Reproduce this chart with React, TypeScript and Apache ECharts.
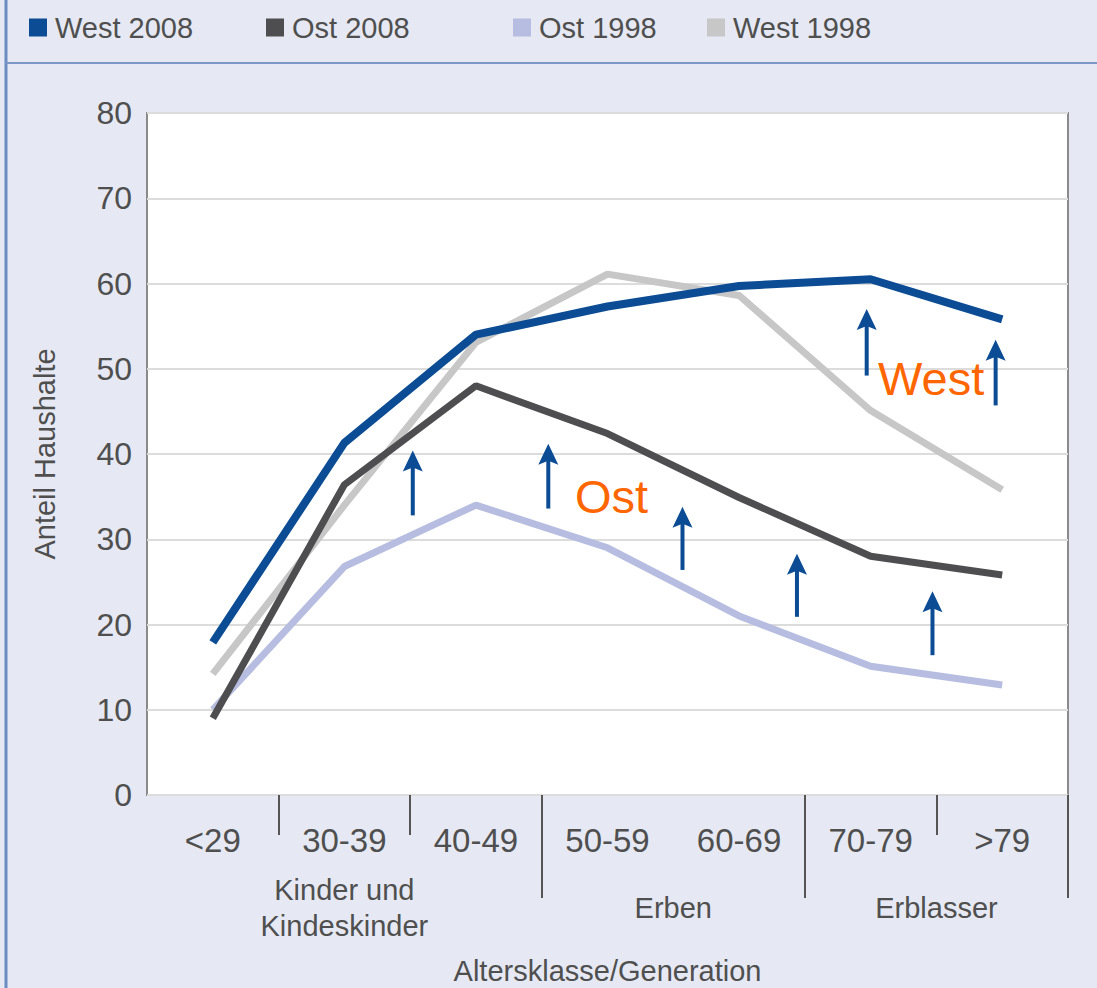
import React, { useEffect, useRef } from "react";
import * as echarts from "echarts";

const categories = ["<29", "30-39", "40-49", "50-59", "60-69", "70-79", ">79"];
const west2008 = [17.9, 41.3, 54.0, 57.3, 59.7, 60.5, 55.8];
const ost2008 = [9.0, 36.4, 48.0, 42.4, 34.9, 28.0, 25.8];
const ost1998 = [10.0, 26.8, 34.0, 29.0, 21.0, 15.1, 12.9];
const west1998 = [14.2, 34.0, 53.1, 61.1, 58.6, 45.1, 35.8];

const yTicks = { min: 0, max: 80, interval: 10 };

// arrows in (category-index, value) coordinates: [x, yFrom, yTo]
const arrows: [number, number, number][] = [
  [1.52, 32.8, 40.4],
  [2.55, 33.6, 41.2],
  [3.57, 26.4, 33.8],
  [4.44, 20.9, 28.3],
  [5.47, 16.4, 23.9],
  [4.97, 49.2, 57.0],
  [5.95, 45.7, 53.4],
];

const shortSeparators = [1, 2, 6];
const longSeparators = [3, 5];

const groupLabels = [
  { text: "Kinder und\nKindeskinder", at: 1 },
  { text: "Erben", at: 3.5 },
  { text: "Erblasser", at: 5.5 },
];

const FONT = "'Liberation Sans', Arial, Helvetica, sans-serif";
const TXT = "#4f4f4f";
const C_W08 = "#0b4c94";
const C_O08 = "#4e4e50";
const C_O98 = "#b6bde0";
const C_W98 = "#c7c7c7";

export default function App() {
  const ref = useRef<HTMLDivElement>(null);
  useEffect(() => {
    if (!ref.current) return;
    const chart = echarts.init(ref.current, null, { renderer: "svg" });
    const legendBase = {
      icon: "rect",
      itemWidth: 18,
      itemHeight: 18,
      top: 13,
      padding: 0,
      textStyle: { fontSize: 29, color: TXT, fontFamily: FONT, lineHeight: 29, padding: [0, 0, 0, 3] },
      selectedMode: false,
    };
    chart.setOption({
      animation: false,
      backgroundColor: "#e6e9f3",
      textStyle: { fontFamily: FONT },
      legend: [
        { ...legendBase, left: 29, data: ["West 2008"] },
        { ...legendBase, left: 266, data: ["Ost 2008"] },
        { ...legendBase, left: 513, data: ["Ost 1998"] },
        { ...legendBase, left: 707, data: ["West 1998"] },
      ],
      grid: {
        left: 147,
        top: 113,
        width: 921,
        height: 682,
        outerBoundsMode: "none",
        containLabel: false,
        show: true,
        backgroundColor: "#ffffff",
        borderColor: "#8a8a8a",
        borderWidth: 2,
      },
      xAxis: [
        {
          type: "category",
          data: categories,
          position: "bottom",
          boundaryGap: true,
          axisLine: { show: false },
          axisTick: {
            show: true,
            length: 40,
            interval: (i: number) => shortSeparators.includes(i),
            lineStyle: { color: "#555", width: 2 },
          },
          axisLabel: { fontSize: 33, color: TXT, margin: 29, lineHeight: 33, fontFamily: FONT, interval: 0 },
          name: "Altersklasse/Generation",
          nameLocation: "middle",
          nameGap: 161,
          nameTextStyle: { fontSize: 29, color: TXT, fontFamily: FONT },
          splitLine: { show: false },
        },
        {
          type: "category",
          data: categories,
          position: "bottom",
          boundaryGap: true,
          axisLine: { show: false },
          axisTick: {
            show: true,
            length: 103,
            interval: (i: number) => longSeparators.includes(i),
            lineStyle: { color: "#555", width: 2 },
          },
          axisLabel: { show: false },
          splitLine: { show: false },
        },
        {
          type: "value",
          min: -0.5,
          max: 6.5,
          show: false,
          splitLine: { show: false },
        },
      ],
      yAxis: {
        type: "value",
        min: yTicks.min,
        max: yTicks.max,
        interval: yTicks.interval,
        axisLine: { show: false },
        axisTick: { show: false },
        axisLabel: { fontSize: 32, color: TXT, margin: 15, fontFamily: FONT },
        splitLine: { lineStyle: { color: "#dcdcdc", width: 2 } },
        name: "Anteil Haushalte",
        nameLocation: "middle",
        nameRotate: 90,
        nameGap: 88,
        nameTextStyle: { fontSize: 29, color: TXT, fontFamily: FONT },
      },
      series: [
        {
          name: "West 1998",
          type: "line",
          data: west1998,
          symbol: "none",
          lineStyle: { color: C_W98, width: 7 },
          itemStyle: { color: C_W98 },
        },
        {
          name: "Ost 1998",
          type: "line",
          data: ost1998,
          symbol: "none",
          lineStyle: { color: C_O98, width: 7 },
          itemStyle: { color: C_O98 },
        },
        {
          name: "Ost 2008",
          type: "line",
          data: ost2008,
          symbol: "none",
          lineStyle: { color: C_O08, width: 7 },
          itemStyle: { color: C_O08 },
        },
        {
          name: "West 2008",
          type: "line",
          data: west2008,
          symbol: "none",
          lineStyle: { color: C_W08, width: 8 },
          itemStyle: { color: C_W08 },
        },
        {
          name: "arrows",
          type: "custom",
          xAxisIndex: 2,
          silent: true,
          data: arrows,
          renderItem: (params: any, api: any) => {
            const x = api.value(0);
            const p1 = api.coord([x, api.value(1)]);
            const p2 = api.coord([x, api.value(2)]);
            const cx = p1[0];
            const tip = p2[1];
            return {
              type: "group",
              children: [
                {
                  type: "line",
                  shape: { x1: cx, y1: p1[1], x2: cx, y2: tip + 14 },
                  style: { stroke: C_W08, lineWidth: 4 },
                },
                {
                  type: "polygon",
                  shape: {
                    points: [
                      [cx, tip],
                      [cx + 10, tip + 21],
                      [cx, tip + 17],
                      [cx - 10, tip + 21],
                    ],
                  },
                  style: { fill: C_W08 },
                },
              ],
            };
          },
        },
      ],
    });

    const gx = (v: number) => chart.convertToPixel({ xAxisIndex: 2 }, v) as number;
    chart.setOption({
      graphic: [
        {
          type: "line",
          shape: { x1: 6, y1: 0, x2: 6, y2: 988 },
          style: { stroke: "#6b8dc2", lineWidth: 3 },
        },
        {
          type: "line",
          shape: { x1: 6, y1: 63, x2: 1097, y2: 63 },
          style: { stroke: "#7d98c6", lineWidth: 2 },
        },
        {
          type: "text",
          left: 878,
          top: 355,
          style: { text: "West", fontSize: 47, fill: "#ff6600", fontFamily: FONT },
        },
        {
          type: "text",
          left: 575,
          top: 473,
          style: { text: "Ost", fontSize: 47, fill: "#ff6600", fontFamily: FONT },
        },
        ...groupLabels.map((g) => ({
          type: "text",
          x: gx(g.at),
          y: g.text.includes("\n") ? 872 : 890,
          style: {
            text: g.text,
            fontSize: 29,
            lineHeight: 36,
            fill: TXT,
            fontFamily: FONT,
            align: "center",
            verticalAlign: "top",
          },
        })),
      ],
    });

    return () => chart.dispose();
  }, []);
  return (
    <div
      ref={ref}
      style={{ position: "absolute", left: 0, top: 0, width: 1097, height: 988 }}
    />
  );
}
